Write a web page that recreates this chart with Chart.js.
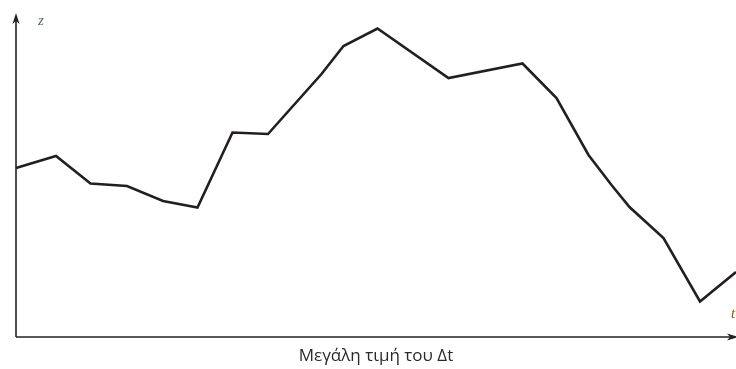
<!DOCTYPE html>
<html>
<head>
<meta charset="utf-8">
<script src="https://cdn.jsdelivr.net/npm/chart.js@4/dist/chart.umd.min.js"></script>
<style>
  html, body { margin: 0; padding: 0; background: #fff; }
  #wrap { width: 736px; height: 369px; }
</style>
</head>
<body>
<div id="wrap"><canvas id="c" width="736" height="369"></canvas></div>
<script>
// Time samples and the measured quantity z(t)
const tValues = [0, 4.0, 7.45, 11.1, 14.7, 18.15, 21.65, 25.2, 30.55, 32.75, 36.15, 43.25, 50.65, 54.05, 57.25, 59.55, 61.35, 64.75, 68.4, 72.0];
const zValues = [16.9, 18.1, 15.35, 15.1, 13.6, 12.95, 20.45, 20.3, 26.3, 29.1, 30.85, 25.9, 27.35, 23.9, 18.2, 15.2, 13.0, 9.9, 3.55, 6.5];
const axisLabels = { y: 'z', x: 't' };
const titleText = 'Μεγάλη τιμή του Δt';

const points = tValues.map((t, i) => ({ x: t, y: zValues[i] }));

// Draws the two axes with arrowheads and their italic letters
const axesPlugin = {
  id: 'arrowAxes',
  afterDraw(chart) {
    const { ctx, chartArea: a } = chart;
    const x0 = a.left, y0 = a.bottom;
    ctx.save();
    ctx.strokeStyle = '#222';
    ctx.fillStyle = '#222';
    ctx.lineWidth = 1.6;
    // vertical axis
    ctx.beginPath();
    ctx.moveTo(x0, y0);
    ctx.lineTo(x0, a.top + 6);
    ctx.stroke();
    ctx.beginPath();
    ctx.moveTo(x0, a.top);
    ctx.lineTo(x0 - 3.5, a.top + 11);
    ctx.lineTo(x0, a.top + 8);
    ctx.lineTo(x0 + 3.5, a.top + 11);
    ctx.closePath();
    ctx.fill();
    // horizontal axis
    ctx.beginPath();
    ctx.moveTo(x0, y0);
    ctx.lineTo(a.right - 4, y0);
    ctx.stroke();
    ctx.beginPath();
    ctx.moveTo(a.right + 2, y0);
    ctx.lineTo(a.right - 9, y0 - 3.5);
    ctx.lineTo(a.right - 6, y0);
    ctx.lineTo(a.right - 9, y0 + 3.5);
    ctx.closePath();
    ctx.fill();
    // axis letters
    ctx.font = 'italic 15px "Liberation Serif", "DejaVu Serif", serif';
    ctx.textBaseline = 'alphabetic';
    ctx.fillStyle = '#5a6478';
    ctx.fillText(axisLabels.y, x0 + 22, a.top + 12);
    ctx.fillStyle = '#8a5a1c';
    ctx.fillText(axisLabels.x, a.right - 5, y0 - 19);
    ctx.restore();
  }
};

new Chart(document.getElementById('c'), {
  type: 'line',
  data: {
    datasets: [{
      data: points,
      borderColor: '#231f20',
      borderWidth: 2.6,
      pointRadius: 0,
      tension: 0,
      fill: false,
      clip: false
    }]
  },
  options: {
    responsive: false,
    animation: false,
    layout: { padding: { left: 16, right: 0, top: 13, bottom: 0 } },
    scales: {
      x: { type: 'linear', min: 0, max: 72, display: false },
      y: { type: 'linear', min: 0, max: 32.4, display: false }
    },
    plugins: {
      legend: { display: false },
      tooltip: { enabled: false },
      title: {
        display: true,
        position: 'bottom',
        text: titleText,
        color: '#2a2a2a',
        font: { family: '"Open Sans", "Noto Sans", sans-serif', size: 17, weight: 'normal' },
        padding: { top: 9, bottom: 2.6 }
      }
    }
  },
  plugins: [axesPlugin]
});
</script>
</body>
</html>
